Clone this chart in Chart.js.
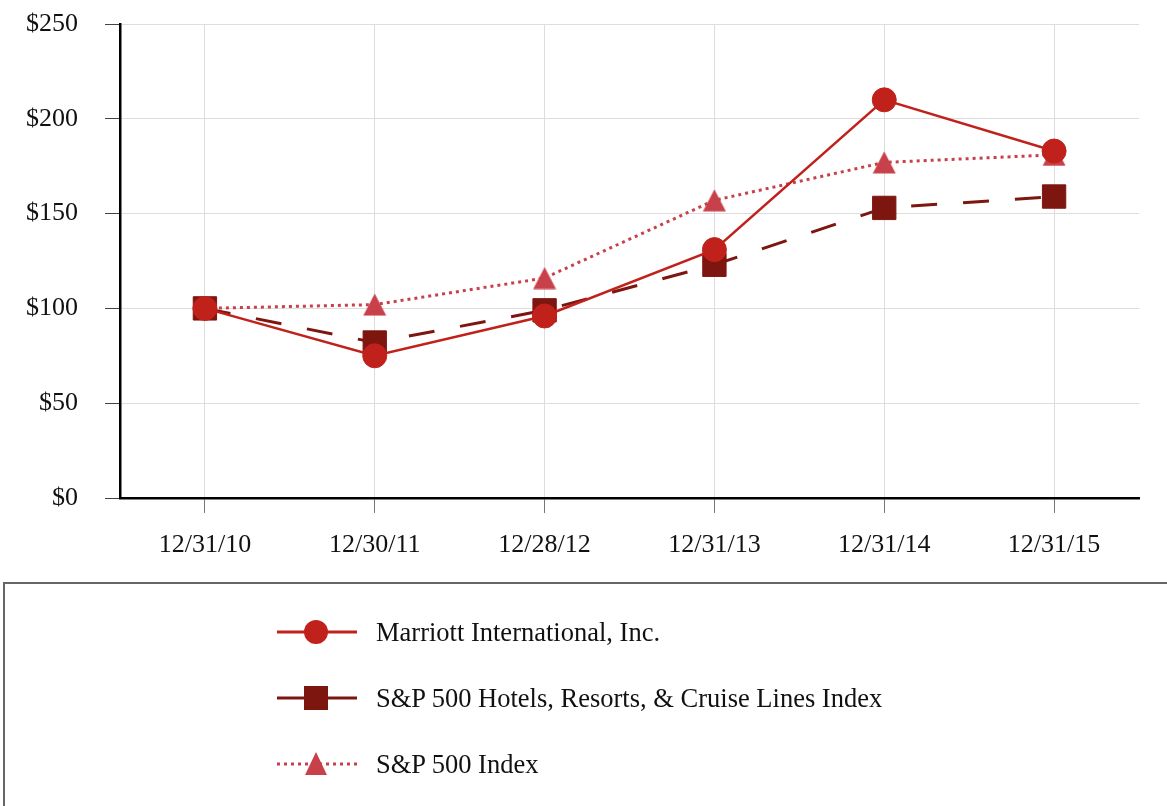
<!DOCTYPE html>
<html lang="en">
<head>
    <meta charset="UTF-8">
    <title>Cumulative Total Return</title>
    <script src="https://cdn.jsdelivr.net/npm/chart.js"></script>
    <style>
        body {
            margin: 0;
            padding: 0;
            background-color: #ffffff;
            width: 1167px;
            height: 806px;
            overflow: hidden;
            position: relative;
            font-family: "Liberation Serif", "Times New Roman", serif;
        }
        .chart-container {
            position: absolute;
            left: 0;
            top: 0;
            width: 1167px;
            height: 583px;
        }
        .legend-box {
            position: absolute;
            left: 3px;
            top: 582px;
            width: 1180px;
            height: 240px;
            border: 2px solid #666;
            box-sizing: border-box;
        }
        .legend-item {
            position: absolute;
            left: 266px;
            height: 40px;
            display: flex;
            align-items: center;
            font-size: 26.5px;
            color: #111;
        }
        .legend-item svg {
            margin-right: 18px;
        }
    </style>
</head>
<body>
    <div class="chart-container">
        <canvas id="returnChart" width="1167" height="583"></canvas>
    </div>
    <div class="legend-box" id="legend"></div>

    <script>
        const dates = ['12/31/10', '12/30/11', '12/28/12', '12/31/13', '12/31/14', '12/31/15'];
        const marriott = [100, 75, 96, 131, 210, 183];
        const hotelsIndex = [100, 82, 99, 123, 153, 159];
        const sp500 = [100, 102, 116, 157, 177, 181];
        const yTicks = [0, 50, 100, 150, 200, 250];

        // triangle marker centred on its box, like the original
        function triangleMarker(color) {
            const c = document.createElement('canvas');
            c.width = 24;
            c.height = 23;
            const g = c.getContext('2d');
            g.fillStyle = color;
            g.beginPath();
            g.moveTo(12, 0.5);
            g.lineTo(23.5, 22.5);
            g.lineTo(0.5, 22.5);
            g.closePath();
            g.fill();
            return c;
        }

        const seriesStyle = [
            { label: 'Marriott International, Inc.', data: marriott, color: '#c0221b', shape: 'circle', radius: 12, dash: [] },
            { label: 'S&P 500 Hotels, Resorts, & Cruise Lines Index', data: hotelsIndex, color: '#7e1610', shape: 'rect', radius: 16.5, dash: [26, 26] },
            { label: 'S&P 500 Index', data: sp500, color: '#c8414a', shape: 'triangle', radius: 12, dash: [3, 4] }
        ];

        const serif = '"Liberation Serif", "Times New Roman", serif';

        const ctx = document.getElementById('returnChart').getContext('2d');
        const chart = new Chart(ctx, {
            type: 'line',
            data: {
                labels: dates,
                datasets: seriesStyle.map(s => ({
                    label: s.label,
                    data: s.data,
                    borderColor: s.color,
                    backgroundColor: s.color,
                    borderWidth: s.shape === 'circle' ? 2.5 : 3,
                    borderDash: s.dash,
                    pointStyle: s.shape === 'triangle' ? triangleMarker(s.color) : s.shape,
                    pointRadius: s.radius,
                    pointBackgroundColor: s.color,
                    pointBorderColor: s.color,
                    pointBorderWidth: 1,
                    tension: 0
                }))
            },
            options: {
                responsive: false,
                animation: false,
                layout: {
                    padding: { top: 24, right: 28, left: 0, bottom: 0 }
                },
                plugins: {
                    legend: { display: false },
                    tooltip: { enabled: false }
                },
                scales: {
                    x: {
                        offset: true,
                        afterFit: scale => { scale.height = 85; },
                        grid: {
                            color: '#dddddd',
                            lineWidth: 1,
                            tickLength: 15,
                            tickColor: '#777777'
                        },
                        border: { display: true, color: '#000000', width: 2.5 },
                        ticks: {
                            color: '#111111',
                            padding: 17,
                            maxRotation: 0,
                            font: { family: serif, size: 26 }
                        }
                    },
                    y: {
                        min: 0,
                        max: 250,
                        afterFit: scale => {
                            scale.width = 120;
                            scale.paddingTop = 0;
                            scale.paddingBottom = 0;
                        },
                        afterBuildTicks: scale => {
                            scale.ticks = yTicks.map(v => ({ value: v }));
                        },
                        grid: {
                            color: '#dddddd',
                            lineWidth: 1,
                            tickLength: 15,
                            tickColor: '#444444'
                        },
                        border: { display: true, color: '#000000', width: 2.5 },
                        ticks: {
                            color: '#111111',
                            padding: 27,
                            font: { family: serif, size: 26 },
                            callback: v => '$' + v
                        }
                    }
                }
            }
        });

        // HTML legend, one row per series
        function markerSvg(s, lineDash) {
            let shape = '';
            if (s.shape === 'circle') {
                shape = '<circle cx="45" cy="20" r="12" fill="' + s.color + '"/>';
            } else if (s.shape === 'rect') {
                shape = '<rect x="33" y="8" width="24" height="24" fill="' + s.color + '"/>';
            } else {
                shape = '<polygon points="45,8 56,31 34,31" fill="' + s.color + '"/>';
            }
            const dash = lineDash.length ? ' stroke-dasharray="' + lineDash.join(' ') + '"' : '';
            return '<svg width="87" height="40">' +
                '<line x1="6" y1="20" x2="86" y2="20" stroke="' + s.color + '" stroke-width="3"' + dash + '/>' +
                shape + '</svg>';
        }

        const legend = document.getElementById('legend');
        const rowTops = [28, 94, 160];
        seriesStyle.forEach((s, i) => {
            const item = document.createElement('div');
            item.className = 'legend-item';
            item.style.top = rowTops[i] + 'px';
            const lineDash = s.shape === 'triangle' ? [3, 4] : [];
            item.innerHTML = markerSvg(s, lineDash) + '<span>' + s.label + '</span>';
            legend.appendChild(item);
        });
    </script>
</body>
</html>
